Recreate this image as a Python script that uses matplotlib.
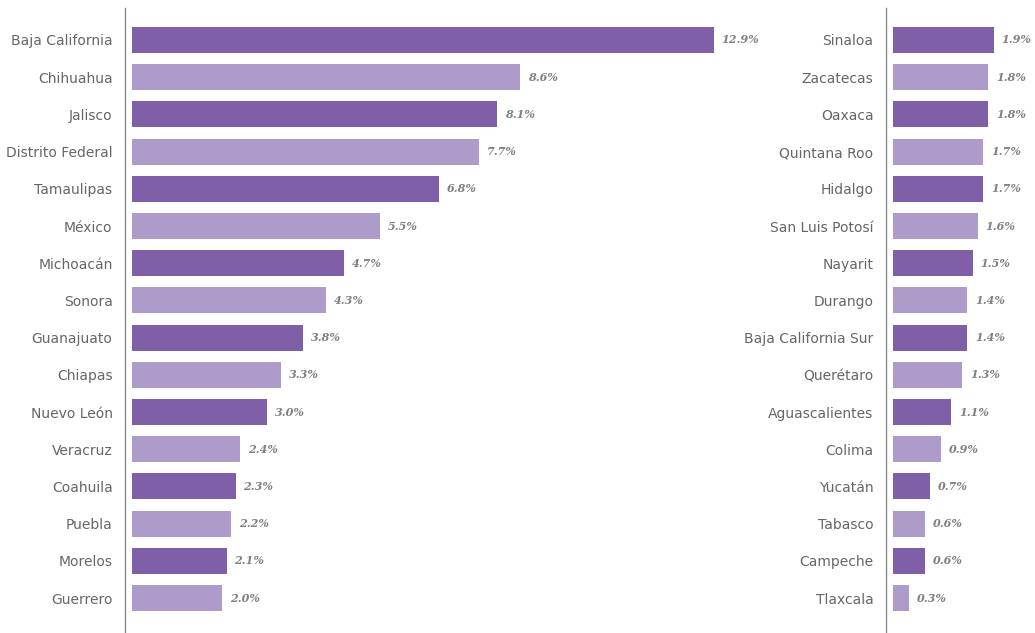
import matplotlib.pyplot as plt
import numpy as np

## data ##
left_states = ["Baja California", "Chihuahua", "Jalisco", "Distrito Federal", "Tamaulipas",
               "México", "Michoacán", "Sonora", "Guanajuato", "Chiapas", "Nuevo León",
               "Veracruz", "Coahuila", "Puebla", "Morelos", "Guerrero"]
left_values = [12.9, 8.6, 8.1, 7.7, 6.8, 5.5, 4.7, 4.3, 3.8, 3.3, 3.0, 2.4, 2.3, 2.2, 2.1, 2.0]

right_states = ["Sinaloa", "Zacatecas", "Oaxaca", "Quintana Roo", "Hidalgo", "San Luis Potosí",
                "Nayarit", "Durango", "Baja California Sur", "Querétaro", "Aguascalientes",
                "Colima", "Yucatán", "Tabasco", "Campeche", "Tlaxcala"]
right_values = [1.9, 1.8, 1.8, 1.7, 1.7, 1.6, 1.5, 1.4, 1.4, 1.3, 1.1, 0.9, 0.7, 0.6, 0.6, 0.3]

DARK = "#7e5fa8"
LIGHT = "#ad9cca"
TEXT = "#666666"

W, H = 1035, 633
fig = plt.figure(figsize=(W / 100, H / 100), dpi=100)


def draw_panel(ax, states, values, xmax, value_pad):
    ypos = np.arange(len(states))
    colors = [DARK if i % 2 == 0 else LIGHT for i in ypos]
    ax.barh(ypos, values, height=0.7, color=colors)
    for y, v in zip(ypos, values):
        ax.text(v + value_pad, y, "{0:.1f}%".format(v), va="center", ha="left",
                fontsize=8, style="italic", weight="bold", family="DejaVu Serif",
                color="#808080")
    ax.set_yticks(ypos)
    ax.set_yticklabels(states, fontsize=7.6)
    ax.tick_params(axis="y", length=0, pad=9, labelcolor=TEXT)
    ax.set_xticks([])
    ax.set_xlim(0, xmax)
    ax.set_ylim(15.94, -0.86)
    for s in ["top", "right", "bottom"]:
        ax.spines[s].set_visible(False)
    ax.spines["left"].set_position(("outward", 5))
    ax.spines["left"].set_color("#8a8a8a")
    ax.spines["left"].set_linewidth(1.0)


## left panel ##
ax1 = fig.add_axes([132 / W, 0, (760 - 132) / W, 1 - 8 / H])
draw_panel(ax1, left_states, left_values, (760 - 132) / 45.1, 0.17)

## right panel ##
ax2 = fig.add_axes([893 / W, 0, (1035 - 893) / W, 1 - 8 / H])
draw_panel(ax2, right_states, right_values, (1035 - 893) / 53.0, 0.15)

fig.savefig("out.png", dpi=100)
